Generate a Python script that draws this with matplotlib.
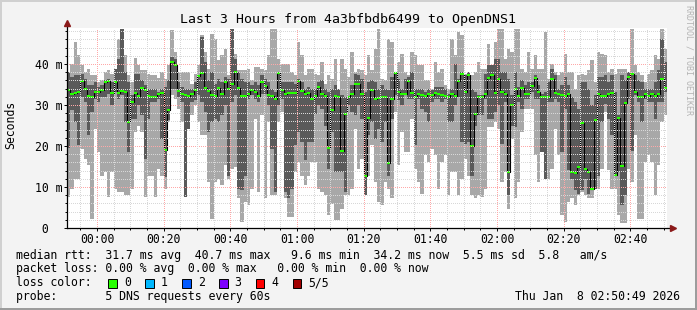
import matplotlib
matplotlib.use("Agg")
import matplotlib.pyplot as plt
import numpy as np
from matplotlib.lines import Line2D
from matplotlib.patches import Rectangle

W, H = 697, 310

title = "Last 3 Hours from 4a3bfbdb6499 to OpenDNS1"
start_time = "23:51"
span_minutes = 180

# five sorted rtts per 1-minute step (ms): max, 4th, median, 2nd, min
rtt_max = [
    38.0, 40.1, 45.4, 42.1, 39.7, 38.0, 38.9, 37.2, 37.2, 35.6,
    36.0, 38.0, 38.5, 37.6, 38.9, 46.2, 48.6, 42.1, 37.2, 35.6,
    41.5, 39.7, 38.5, 38.5, 37.6, 37.2, 37.2, 36.6, 38.0, 36.4,
    39.7, 48.2, 42.9, 38.0, 38.0, 38.0, 38.0, 35.2, 37.6, 39.7,
    47.0, 42.9, 38.9, 47.4, 46.2, 40.9, 42.1, 43.7, 37.2, 48.6,
    42.5, 38.5, 38.5, 38.5, 38.9, 36.0, 39.3, 39.3, 38.9, 38.5,
    42.1, 48.6, 48.6, 41.3, 40.1, 40.1, 40.1, 38.0, 37.2, 45.4,
    42.1, 37.2, 38.9, 38.9, 37.6, 37.2, 40.5, 35.2, 37.2, 36.4,
    41.3, 34.0, 41.3, 38.9, 36.8, 42.9, 38.0, 38.9, 38.5, 37.2,
    42.1, 38.5, 43.7, 48.6, 36.4, 36.0, 46.2, 45.4, 38.0, 40.5,
    42.5, 38.0, 37.2, 42.9, 42.1, 39.7, 39.7, 36.0, 36.0, 34.0,
    40.5, 38.0, 38.9, 34.8, 34.0, 46.2, 42.1, 47.8, 47.0, 37.6,
    38.0, 37.2, 38.0, 40.5, 38.9, 38.9, 45.0, 39.7, 45.4, 48.6,
    48.6, 41.3, 43.7, 42.9, 48.6, 48.6, 38.9, 38.0, 42.9, 38.9,
    42.1, 38.9, 38.9, 47.8, 36.4, 40.1, 38.0, 37.2, 38.0, 42.5,
    38.0, 38.0, 34.0, 37.2, 37.6, 37.2, 38.5, 40.9, 35.6, 42.9,
    42.5, 42.1, 38.0, 38.9, 37.6, 38.9, 38.9, 38.9, 38.0, 48.6,
    39.7, 38.0, 37.2, 35.6, 37.6, 38.5, 42.1, 41.3, 48.6, 43.7,
]
rtt_p4 = [
    38.0, 36.8, 37.2, 37.2, 37.6, 36.4, 34.8, 34.8, 35.6, 34.4,
    34.8, 36.0, 36.4, 35.6, 38.9, 41.3, 48.6, 38.0, 35.6, 32.4,
    37.6, 37.6, 36.0, 34.8, 34.0, 34.0, 34.0, 33.2, 34.0, 34.4,
    36.0, 41.7, 41.3, 35.6, 34.4, 34.0, 34.0, 34.0, 35.6, 37.2,
    46.6, 40.5, 36.0, 38.0, 35.2, 36.4, 35.6, 36.8, 36.4, 48.6,
    41.3, 38.0, 36.4, 35.6, 35.6, 34.8, 35.6, 34.8, 37.2, 36.4,
    35.6, 34.0, 33.2, 38.0, 35.6, 35.6, 35.6, 35.6, 35.2, 36.4,
    35.6, 34.0, 34.4, 34.0, 34.0, 35.6, 36.0, 34.0, 33.2, 34.0,
    34.8, 34.0, 32.4, 32.0, 32.0, 34.8, 37.6, 37.2, 36.4, 33.2,
    35.6, 36.0, 35.6, 34.0, 34.8, 34.0, 33.6, 36.8, 38.0, 36.4,
    34.0, 36.4, 36.8, 38.0, 34.0, 34.0, 34.0, 33.2, 34.0, 33.6,
    34.4, 34.4, 34.4, 34.0, 32.8, 34.0, 40.1, 36.4, 38.0, 37.2,
    38.0, 34.0, 33.2, 32.4, 32.4, 37.6, 39.7, 39.7, 41.3, 41.3,
    38.0, 38.0, 36.4, 32.4, 38.0, 34.4, 36.0, 34.8, 35.6, 35.6,
    37.2, 34.8, 32.8, 33.2, 35.6, 38.9, 37.2, 34.0, 34.8, 36.8,
    34.8, 32.0, 30.7, 29.1, 35.6, 35.6, 34.0, 29.9, 32.4, 36.8,
    36.8, 37.2, 35.6, 37.2, 33.2, 27.5, 37.2, 36.0, 38.0, 37.6,
    37.2, 36.0, 35.6, 34.0, 34.0, 34.0, 35.6, 38.5, 46.2, 40.5,
]
rtt_median = [
    33.6, 32.8, 32.9, 33.2, 35.9, 34.0, 32.2, 32.0, 33.2, 33.2,
    33.7, 35.6, 35.8, 32.9, 35.6, 33.0, 33.4, 33.2, 25.9, 30.7,
    33.0, 32.2, 34.1, 33.6, 32.2, 32.0, 32.0, 32.8, 33.0, 19.1,
    28.9, 40.5, 39.8, 33.4, 32.8, 32.4, 32.1, 32.8, 33.6, 37.0,
    37.9, 34.1, 33.5, 32.5, 32.1, 34.1, 32.8, 35.6, 34.0, 35.2,
    38.0, 34.2, 32.2, 32.2, 32.8, 33.6, 33.2, 32.2, 35.6, 34.6,
    32.5, 32.2, 31.4, 37.8, 33.6, 32.8, 33.0, 33.0, 32.9, 35.9,
    33.4, 32.8, 33.0, 31.4, 32.2, 34.4, 32.8, 32.2, 19.5, 28.9,
    32.2, 32.0, 18.9, 27.9, 32.0, 32.8, 35.2, 35.2, 32.8, 12.8,
    26.9, 33.6, 31.5, 31.7, 32.0, 32.0, 15.9, 31.5, 37.9, 33.2,
    32.8, 32.8, 35.9, 33.0, 32.0, 32.8, 32.4, 32.2, 32.8, 32.4,
    33.0, 32.8, 32.4, 32.2, 32.0, 32.7, 32.2, 35.8, 37.6, 33.2,
    37.2, 20.0, 27.9, 32.0, 32.0, 32.8, 36.7, 37.2, 32.9, 36.4,
    33.2, 32.8, 13.7, 30.1, 33.9, 32.2, 34.1, 32.8, 32.8, 34.6,
    36.7, 33.2, 32.0, 32.0, 32.0, 36.4, 33.0, 32.8, 32.4, 32.2,
    32.8, 13.7, 13.3, 14.9, 25.6, 14.5, 13.7, 9.6, 26.4, 32.8,
    32.2, 32.2, 32.8, 33.0, 13.0, 26.8, 15.1, 30.5, 36.8, 37.5,
    33.2, 32.0, 32.0, 32.6, 32.2, 32.7, 32.2, 32.8, 36.4, 34.1,
]
rtt_p2 = [
    19.5, 28.7, 25.9, 20.2, 32.0, 30.7, 22.6, 28.3, 31.5, 30.7,
    32.0, 32.0, 32.8, 29.9, 33.2, 31.5, 32.4, 25.9, 18.5, 26.7,
    26.7, 29.9, 27.5, 16.9, 26.7, 30.7, 30.7, 31.5, 21.8, 12.4,
    26.3, 34.0, 34.0, 32.0, 30.7, 7.6, 24.2, 30.7, 31.1, 32.4,
    30.7, 28.3, 23.4, 25.9, 26.7, 25.9, 27.5, 29.9, 12.8, 30.7,
    32.4, 9.6, 9.2, 12.8, 31.5, 32.4, 31.5, 30.7, 32.8, 32.8,
    29.9, 19.3, 8.8, 29.9, 31.5, 8.8, 7.2, 9.6, 20.2, 23.4,
    21.0, 16.5, 21.0, 21.0, 27.9, 29.9, 29.1, 25.0, 14.5, 23.4,
    13.7, 13.7, 13.7, 8.8, 29.9, 28.3, 27.5, 29.9, 26.7, 8.0,
    22.6, 25.9, 21.8, 24.2, 21.0, 25.9, 12.8, 26.7, 32.4, 31.1,
    29.9, 32.4, 31.5, 31.5, 20.2, 31.5, 29.1, 28.3, 25.9, 30.7,
    31.5, 31.5, 30.7, 31.5, 25.9, 25.9, 29.9, 32.0, 21.0, 20.6,
    21.0, 12.8, 25.0, 27.5, 27.5, 31.5, 26.7, 26.7, 28.3, 29.9,
    20.6, 30.7, 8.0, 25.0, 24.6, 30.7, 29.1, 31.5, 31.5, 33.2,
    31.5, 31.5, 18.5, 12.0, 30.7, 30.7, 31.5, 30.7, 18.5, 29.1,
    14.1, 12.0, 9.2, 8.4, 9.2, 12.0, 8.4, 9.2, 9.6, 12.8,
    25.9, 30.3, 26.7, 22.6, 12.8, 13.7, 5.5, 8.0, 31.5, 18.9,
    32.4, 30.7, 25.9, 31.5, 30.7, 30.7, 26.7, 30.7, 30.7, 33.2,
]
rtt_min = [
    7.6, 9.6, 12.0, 12.0, 19.3, 16.9, 15.3, 2.3, 24.2, 18.5,
    12.8, 13.7, 7.6, 13.7, 9.6, 8.8, 8.8, 8.0, 8.0, 9.6,
    23.4, 25.0, 23.4, 7.6, 12.8, 12.8, 7.6, 14.5, 12.8, 9.6,
    25.9, 32.4, 31.5, 29.1, 25.9, 7.6, 24.2, 27.5, 29.9, 25.9,
    22.6, 22.6, 11.2, 2.3, 11.2, 12.0, 10.4, 15.3, 12.0, 14.5,
    14.9, 7.2, 1.5, 6.3, 5.5, 9.6, 26.7, 8.8, 27.5, 7.2,
    25.9, 8.0, 8.0, 25.9, 28.3, 7.2, 2.7, 2.7, 13.7, 16.1,
    12.8, 10.4, 12.8, 16.1, 16.1, 9.6, 8.8, 8.0, 3.1, 5.9,
    1.9, 1.9, 4.7, 8.0, 8.0, 9.6, 24.2, 14.5, 16.9, 8.0,
    12.8, 20.2, 11.2, 6.3, 5.5, 11.2, 9.6, 7.2, 28.3, 15.3,
    23.4, 18.5, 18.5, 26.7, 14.5, 11.2, 8.4, 17.7, 16.1, 19.3,
    17.7, 9.6, 16.1, 17.7, 8.0, 13.7, 13.7, 8.0, 12.0, 16.9,
    12.8, 8.0, 7.2, 8.0, 7.6, 9.6, 24.6, 24.6, 25.9, 24.2,
    11.2, 13.7, 4.7, 21.8, 7.2, 11.2, 23.4, 29.1, 29.1, 29.1,
    17.7, 11.2, 18.5, 12.0, 12.0, 14.5, 24.2, 17.7, 3.1, 1.5,
    6.3, 7.2, 5.5, 8.0, 8.8, 8.0, 7.2, 7.2, 9.6, 9.6,
    14.5, 28.3, 14.1, 9.6, 9.6, 3.1, 1.1, 1.1, 14.5, 11.2,
    22.6, 2.3, 2.3, 16.1, 17.7, 16.1, 8.0, 15.3, 25.9, 27.5,
]

time_labels = ["00:00", "00:20", "00:40", "01:00", "01:20", "01:40",
               "02:00", "02:20", "02:40"]
y_ticks = [0, 10, 20, 30, 40]
y_labels = [" 0", "10 m", "20 m", "30 m", "40 m"]

loss_labels = ["0", "1", "2", "3", "4", "5/5"]
loss_colors = ["#26ff00", "#00b8ff", "#0059ff", "#7e00ff", "#ff0000", "#a10000"]

legend_rtt = ("median rtt:  31.7 ms avg  40.7 ms max   9.6 ms min  "
              "34.2 ms now  5.5 ms sd  5.8   am/s")
legend_loss = "packet loss: 0.00 % avg  0.00 % max   0.00 % min  0.00 % now"
legend_probe = "probe:       5 DNS requests every 60s"
stamp = "Thu Jan  8 02:50:49 2026"

plt.rcParams["font.family"] = ["DejaVu Sans Mono"]
FS = 8.3


def fx(x):
    return x / W


def fy(y):
    return 1 - y / H


def minutes_from_start(label):
    h, m = map(int, label.split(":"))
    h0, m0 = map(int, start_time.split(":"))
    return ((h * 60 + m) - (h0 * 60 + m0)) % (24 * 60)


def ext(values):
    a = np.asarray(values, dtype=float)
    return np.append(a, a[-1])


fig = plt.figure(figsize=(W / 100, H / 100), dpi=100, facecolor="#f3f3f3")
ax = fig.add_axes([fx(67), fy(228), 600 / W, 200 / H])
ax.set_facecolor("white")

n = len(rtt_median)
edges = np.arange(n + 1)
ax.fill_between(edges, ext(rtt_min), ext(rtt_max), step="post",
                color="#a8a8a8", lw=0, zorder=1)
ax.fill_between(edges, ext(rtt_p2), ext(rtt_p4), step="post",
                color="#5a5a5a", lw=0, zorder=2)
ax.step(edges, ext(rtt_median), where="post", color="black", lw=0.8, zorder=3)
ax.hlines(rtt_median, edges[:-1], edges[1:], colors=loss_colors[0], lw=1.5, zorder=4)

ymax = 200 / 4.1
ax.set_xlim(0, span_minutes)
ax.set_ylim(0, ymax)

# dotted grid, drawn over the smoke like rrdtool does
dots = (0, (1, 2))
grid_kw = dict(lw=0.72, ls=dots, antialiased=False, zorder=5)
for v in range(2, int(ymax) + 1, 2):
    major = v % 10 == 0
    ax.axhline(v, color="#ffa8a8" if major else "#d8d8d8", **grid_kw)
m0 = int(start_time.split(":")[1])
first_minor = (5 - m0 % 5) % 5
minor_x = np.arange(first_minor, span_minutes + 1, 5)
major_x = [minutes_from_start(t) for t in time_labels]
for x in minor_x:
    major = x in major_x
    ax.axvline(x, color="#ffa8a8" if major else "#d8d8d8", **grid_kw)

ax.set_xticks(major_x, time_labels)
ax.set_xticks(minor_x, minor=True)
ax.set_yticks(y_ticks, y_labels)
ax.set_yticks(range(2, int(ymax) + 1, 2), minor=True)
ax.tick_params(which="both", direction="out", length=2, width=0.7,
               labelsize=FS, colors="black")
ax.tick_params(which="minor", length=1.2)
ax.tick_params(axis="x", pad=1.5)
ax.tick_params(axis="y", pad=21)
for lbl in ax.get_yticklabels():
    lbl.set_ha("left")

for s in ax.spines.values():
    s.set_visible(False)
ax.plot([0, 1 + 4 / 600], [0, 0], transform=ax.transAxes, color="black",
        lw=0.9, clip_on=False, zorder=6)
ax.plot([0, 0], [0, 1 + 3 / 200], transform=ax.transAxes, color="black",
        lw=0.9, clip_on=False, zorder=6)
ax.plot(1 + 6 / 600, 0, marker=">", ms=4, color="#8b1a1a",
        transform=ax.transAxes, clip_on=False, zorder=7)
ax.plot(0, 1 + 5 / 200, marker="^", ms=4, color="#8b1a1a",
        transform=ax.transAxes, clip_on=False, zorder=7)

fig.text(fx(347.5), fy(19), title, ha="center", va="center", fontsize=9.5)
fig.text(fx(10.5), fy(125), "Seconds", rotation=90, ha="center", va="center",
         fontsize=FS)
fig.text(fx(689), fy(60), "RRDTOOL / TOBI OETIKER", rotation=270, ha="center",
         va="center", fontsize=6.0, color="#b4b4b4")

fig.text(fx(16), fy(258.5), legend_rtt, ha="left", va="baseline", fontsize=FS)
fig.text(fx(16), fy(272.3), legend_loss, ha="left", va="baseline", fontsize=FS)
fig.text(fx(16), fy(286.3), "loss color:", ha="left", va="baseline", fontsize=FS)
fig.text(fx(16), fy(300.2), legend_probe, ha="left", va="baseline", fontsize=FS)
fig.text(fx(680), fy(300.2), stamp, ha="right", va="baseline", fontsize=FS)

for k, (lab, col) in enumerate(zip(loss_labels, loss_colors)):
    left = 108.3 + 36.9 * k
    fig.add_artist(Rectangle((fx(left), fy(287.5)), 8.5 / W, 8.5 / H,
                             transform=fig.transFigure, facecolor=col,
                             edgecolor="black", lw=0.7))
    fig.text(fx(left + 15.7), fy(286.3), lab, ha="left", va="baseline", fontsize=FS)

# 3d-ish frame around the canvas
lw_px = 2 * 0.72
fig.add_artist(Line2D([0, 1], [fy(0.5), fy(0.5)], transform=fig.transFigure,
                      color="#d0d0d0", lw=lw_px))
fig.add_artist(Line2D([fx(0.5), fx(0.5)], [0, 1], transform=fig.transFigure,
                      color="#d0d0d0", lw=lw_px))
fig.add_artist(Line2D([0, 1], [fy(H - 1), fy(H - 1)], transform=fig.transFigure,
                      color="#9c9c9c", lw=lw_px))
fig.add_artist(Line2D([fx(W - 1), fx(W - 1)], [0, 1], transform=fig.transFigure,
                      color="#9c9c9c", lw=lw_px))

fig.savefig("out.png", dpi=100, facecolor=fig.get_facecolor())
